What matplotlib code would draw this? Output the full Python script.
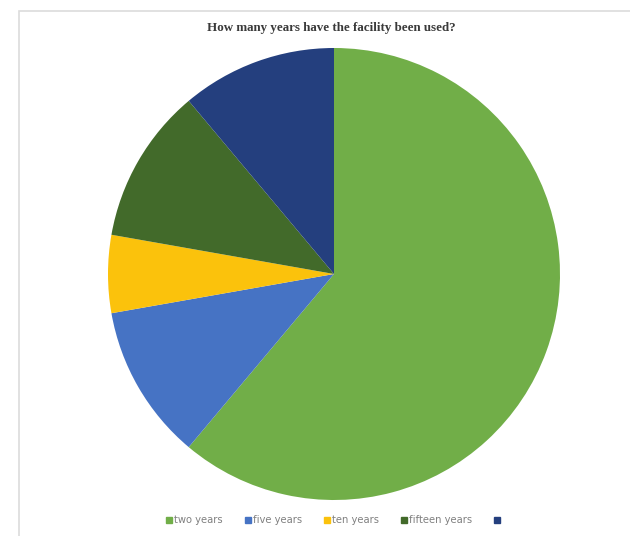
import matplotlib
matplotlib.use("Agg")
import matplotlib.pyplot as plt
from matplotlib.patches import Rectangle
from matplotlib.lines import Line2D

categories = ["two years", "five years", "ten years", "fifteen years", ""]
values = [11, 2, 1, 2, 2]
colors = ["#71ae48", "#4673c4", "#fbc20c", "#426a2a", "#243f7e"]
title = "How many years have the facility been used?"

W, H = 630, 536
fig = plt.figure(figsize=(W / 100, H / 100), dpi=100)
fig.patch.set_facecolor("white")

# light frame around the chart area (runs off the right and bottom edges)
fig.add_artist(Rectangle((19 / W, -0.05), 1.0, (H - 11) / H + 0.05,
                         transform=fig.transFigure, fill=False,
                         edgecolor="#dcdcdc", linewidth=1.2))

cx, cy, r = 334, 274, 226
ax = fig.add_axes([(cx - r) / W, (H - cy - r) / H, 2 * r / W, 2 * r / H])
ax.pie(values, colors=colors, startangle=90, counterclock=False,
       wedgeprops=dict(linewidth=0))
ax.set_xlim(-1, 1)
ax.set_ylim(-1, 1)
ax.set_aspect("equal")
ax.axis("off")

fig.text(331 / W, 1 - 28 / H, title, ha="center", va="center",
         family="Liberation Serif", weight="bold", fontsize=9.4, color="#3a3a3a")

handles = [Line2D([], [], marker="s", linestyle="none", markersize=5,
                  markerfacecolor=c, markeredgecolor=c) for c in colors]
fig.legend(handles, categories, loc="center", bbox_to_anchor=(333 / W, 1 - 520 / H),
           ncol=5, frameon=False, fontsize=7.2, handletextpad=0.0,
           columnspacing=2.0, handlelength=1.0, labelcolor="#808080")

fig.savefig("out.png", dpi=100)
